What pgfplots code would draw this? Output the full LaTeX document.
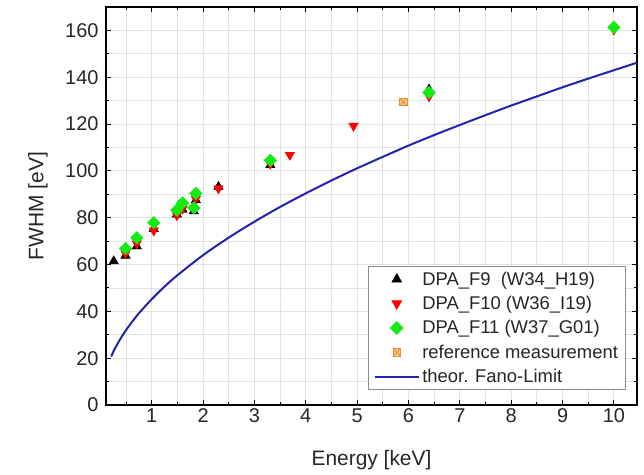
\documentclass[border=0pt]{standalone}
\usepackage{fontspec}
\setmainfont{Liberation Sans}
\usepackage{pgfplots}
\pgfplotsset{compat=1.18}
\usetikzlibrary{calc}
\definecolor{fanoblue}{RGB}{35,35,175}
\definecolor{brightgreen}{RGB}{20,235,20}
\definecolor{refor}{RGB}{232,140,50}
\definecolor{reffill}{RGB}{248,200,140}
\definecolor{gridgray}{RGB}{225,225,225}
\pgfdeclareplotmark{boxx}{%
  \pgfpathrectangle{\pgfpoint{-\pgfplotmarksize}{-\pgfplotmarksize}}{\pgfpoint{2\pgfplotmarksize}{2\pgfplotmarksize}}%
  \pgfusepathqfillstroke
  \pgfpathmoveto{\pgfpoint{-\pgfplotmarksize}{-\pgfplotmarksize}}%
  \pgfpathlineto{\pgfpoint{\pgfplotmarksize}{\pgfplotmarksize}}%
  \pgfpathmoveto{\pgfpoint{-\pgfplotmarksize}{\pgfplotmarksize}}%
  \pgfpathlineto{\pgfpoint{\pgfplotmarksize}{-\pgfplotmarksize}}%
  \pgfusepathqstroke
}
\begin{document}
\begin{tikzpicture}
\begin{axis}[
  scale only axis,
  width=531bp, height=398bp,
  xmin=0.11, xmax=10.45,
  ymin=0, ymax=170,
  xtick={1,2,...,10},
  minor xtick={0.5,1.5,...,10},
  ytick={0,20,...,160},
  minor ytick={10,30,...,170},
  grid=both,
  major grid style={gridgray, line width=0.8bp},
  minor grid style={gridgray, line width=0.8bp},
  tick align=inside,
  major tick length=5bp,
  minor tick length=3bp,
  tick style={black, line width=1bp},
  axis line style={black, line width=1.3bp},
  /pgf/number format/assume math mode=true,
  ticklabel style={font=\fontsize{20}{24}\selectfont, text=black!85},
  yticklabel style={xshift=-4bp},
  xlabel={Energy [keV]},
  ylabel={FWHM [eV]},
  xlabel style={at={(axis description cs:0.5,-0.138)}, anchor=center, font=\fontsize{21}{25}\selectfont, text=black!85},
  ylabel style={at={(axis description cs:-0.128,0.5)}, anchor=center, rotate=0, font=\fontsize{21}{25}\selectfont, text=black!85},
  legend image code/.code={\draw[mark repeat=2,mark phase=2,#1] plot coordinates {(0bp,0bp) (22bp,0bp) (44bp,0bp)};},
  legend cell align=left,
  legend style={at={(axis description cs:0.979,0.0377)}, anchor=south east,
    draw=black!45, line width=0.8bp, fill=white,
    font=\fontsize{18.5}{20}\selectfont, text=black!85,
    inner xsep=5bp, inner ysep=3bp, row sep=4.5bp,
    nodes={inner sep=2.5bp}},
]
\addplot[only marks, mark=triangle*, mark size=5.5pt, black] coordinates {
 (0.26,61.4) (0.49,63.8) (0.71,67.8) (1.04,75.2) (1.49,81.4) (1.6,83.5)
 (1.82,82.8) (1.86,87.5) (2.3,93.2) (3.31,102.5) (6.4,134.8)
};
\addlegendentry{DPA\_F9\ \ (W34\_H19)}
\addplot[only marks, mark=triangle*, mark size=5.5pt, red, mark options={rotate=180}] coordinates {
 (0.49,64.7) (0.71,69) (1.04,74.5) (1.49,81) (1.6,83.8) (1.86,88)
 (2.3,92.5) (3.31,103) (3.69,106.8) (4.93,119.2) (6.4,131.8) (10.0,160.3)
};
\addlegendentry{DPA\_F10 (W36\_I19)}
\addplot[only marks, mark=square*, mark size=4.5pt, brightgreen, mark options={rotate=45}] coordinates {
 (0.49,66.8) (0.71,71.4) (1.04,77.8) (1.49,83.2) (1.6,86.3) (1.82,84.2)
 (1.86,90.4) (3.31,104.5) (6.4,133.5) (10.0,161.3)
};
\addlegendentry{DPA\_F11 (W37\_G01)}
\addplot[only marks, mark=boxx, mark size=3.8pt, mark options={draw=refor, fill=reffill, line width=0.8bp}] coordinates {
 (5.9,129.5)
};
\addlegendentry{reference measurement}
\addplot[fanoblue, line width=2bp, smooth, no marks] coordinates {
 (0.21,20.7) (0.25,22.6) (0.3,24.8) (0.4,28.6) (0.5,32.0) (0.6,35.0)
 (0.75,39.2) (0.8,40.4) (1.0,45.2) (1.25,50.6) (1.5,55.4) (2.0,64.0)
 (2.5,71.5) (3.0,78.3) (3.5,84.6) (4.0,90.4) (4.5,95.9) (5.0,101.1)
 (5.5,106.0) (6.0,110.8) (6.5,115.3) (7.0,119.6) (7.5,123.8) (8.0,127.9)
 (8.5,131.8) (9.0,135.7) (9.5,139.4) (10.0,143.0) (10.45,146.2)
};
\addlegendentry{theor. Fano-Limit}
\end{axis}
\pgfresetboundingbox
\path[use as bounding box] ($(current axis.south west)+(-106bp,-70bp)$) rectangle ($(current axis.north east)+(7bp,7bp)$);
\end{tikzpicture}
\end{document}
